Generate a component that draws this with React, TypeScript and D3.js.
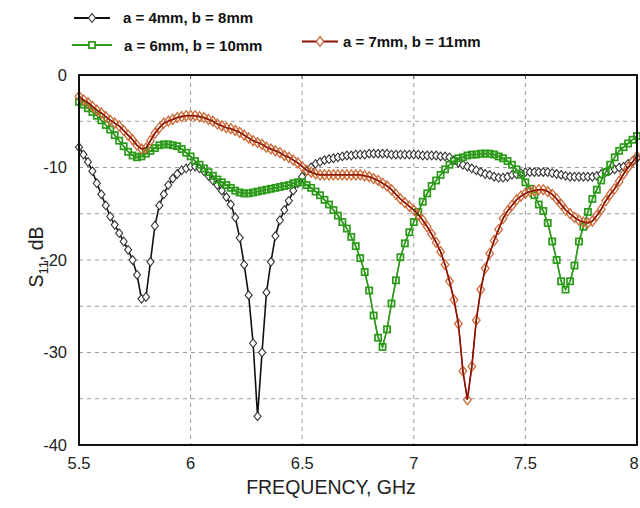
import React from "react";
import * as d3 from "d3";

// Frequency samples (GHz), 0.02 GHz step
const FREQ: number[] = d3.range(0, 126).map((i) => +(5.5 + i * 0.02).toFixed(2));

// a = 4mm, b = 8mm
const S11_A4B8: number[] = [
  -7.8, -8.6, -9.4, -10.4, -11.7, -12.9, -14.1, -15.3, -16.2, -17.1,
  -18.0, -18.9, -20.0, -21.6, -24.2, -24.0, -20.2, -16.3, -14.1, -12.9,
  -11.9, -11.2, -10.7, -10.3, -10.1, -9.9, -9.9, -10.1, -10.4, -10.9,
  -11.4, -11.9, -12.5, -13.2, -14.0, -15.4, -17.6, -20.5, -23.8, -29.0,
  -36.9, -30.0, -23.5, -20.2, -17.4, -15.7, -14.6, -13.6, -12.5, -11.7,
  -11.0, -10.4, -10.0, -9.6, -9.4, -9.2, -9.1, -9.0, -8.9, -8.8,
  -8.7, -8.7, -8.6, -8.6, -8.6, -8.5, -8.5, -8.5, -8.5, -8.5,
  -8.6, -8.6, -8.6, -8.6, -8.6, -8.6, -8.6, -8.7, -8.7, -8.7,
  -8.7, -8.8, -8.8, -8.9, -9.2, -9.5, -9.7, -9.9, -10.1, -10.3,
  -10.5, -10.7, -10.8, -11.0, -11.1, -11.1, -11.0, -10.8, -10.7, -10.6,
  -10.5, -10.5, -10.5, -10.5, -10.5, -10.5, -10.6, -10.7, -10.8, -10.9,
  -11.0, -11.0, -11.0, -11.0, -11.0, -11.0, -10.9, -10.7, -10.5, -10.3,
  -10.2, -10.0, -9.9, -9.6, -9.3, -9.0,
];

// a = 6mm, b = 10mm
const S11_A6B10: number[] = [
  -2.9, -3.2, -3.6, -4.0, -4.4, -4.9, -5.4, -5.9, -6.5, -7.1,
  -7.7, -8.3, -8.7, -8.9, -8.8, -8.5, -8.2, -7.9, -7.6, -7.5,
  -7.5, -7.6, -7.7, -8.0, -8.4, -8.8, -9.3, -9.7, -10.1, -10.5,
  -10.9, -11.3, -11.6, -11.9, -12.2, -12.5, -12.7, -12.8, -12.8, -12.7,
  -12.6, -12.5, -12.4, -12.3, -12.2, -12.1, -12.0, -11.9, -11.7, -11.6,
  -11.6, -11.9, -12.2, -12.6, -13.0, -13.5, -14.0, -14.6, -15.2, -15.9,
  -16.6, -17.5, -18.5, -19.8, -21.3, -23.3, -26.0, -28.4, -29.4, -27.5,
  -24.7, -22.2, -19.7, -18.2, -17.0, -15.9, -14.8, -13.7, -12.8, -12.0,
  -11.4, -10.8, -10.2, -9.7, -9.3, -9.0, -8.9, -8.7, -8.6, -8.6,
  -8.5, -8.5, -8.5, -8.6, -8.8, -9.0, -9.3, -9.7, -10.2, -10.8,
  -11.6, -12.3, -13.0, -14.0, -14.7, -16.0, -18.0, -20.0, -22.3, -23.2,
  -22.3, -20.6, -18.0, -16.4, -14.8, -13.4, -12.4, -11.4, -10.5, -9.7,
  -8.9, -8.2, -7.8, -7.4, -7.0, -6.6,
];

// a = 7mm, b = 11mm
const S11_A7B11: number[] = [
  -2.3, -2.7, -3.0, -3.4, -3.8, -4.1, -4.5, -4.9, -5.2, -5.5,
  -6.0, -6.5, -7.0, -7.6, -8.0, -7.9, -7.1, -6.3, -5.7, -5.2,
  -5.0, -4.8, -4.6, -4.5, -4.4, -4.4, -4.4, -4.5, -4.6, -4.8,
  -5.0, -5.3, -5.5, -5.7, -5.8, -6.0, -6.2, -6.5, -6.8, -7.1,
  -7.3, -7.5, -7.8, -8.0, -8.2, -8.4, -8.7, -8.9, -9.2, -9.5,
  -9.9, -10.3, -10.5, -10.7, -10.8, -10.8, -10.8, -10.8, -10.8, -10.8,
  -10.8, -10.8, -10.8, -10.8, -10.9, -11.0, -11.2, -11.4, -11.7, -12.0,
  -12.4, -12.9, -13.4, -13.8, -14.2, -14.6, -15.1, -15.7, -16.4, -17.2,
  -18.1, -19.1, -20.5, -22.3, -24.3, -26.9, -32.0, -35.1, -31.5, -26.5,
  -23.2, -20.9, -19.3, -17.9, -16.7, -15.5, -14.7, -14.1, -13.5, -13.1,
  -12.8, -12.6, -12.5, -12.4, -12.4, -12.6, -12.9, -13.4, -14.0, -14.6,
  -15.0, -15.4, -15.7, -15.9, -16.0, -15.8, -15.2, -14.5, -13.6, -12.9,
  -12.3, -11.5, -10.7, -10.0, -9.4, -8.8,
];

const X_TICKS: number[] = [5.5, 6, 6.5, 7, 7.5, 8];
const X_TICK_LABELS: string[] = ["5.5", "6", "6.5", "7", "7.5", "8"];
const Y_TICKS: number[] = [0, -10, -20, -30, -40];
const Y_GRID: number[] = [-5, -10, -15, -20, -25, -30, -35];
const X_GRID: number[] = [6, 6.5, 7, 7.5];

const SERIES_LABELS: string[] = ["a = 4mm, b = 8mm", "a = 6mm, b = 10mm", "a = 7mm, b = 11mm"];

const W = 640;
const H = 508;
const PL = 79;
const PR = 637;
const PT = 75;
const PB = 445;

const FONT = "'Liberation Sans', Arial, sans-serif";

type Marker = "diamond" | "square" | "tallDiamond";

function MarkerShape({ type, x, y, stroke, fill }: { type: Marker; x: number; y: number; stroke: string; fill: string }) {
  if (type === "diamond" || type === "tallDiamond") {
    const w = type === "diamond" ? 3.5 : 3.8;
    const h = type === "diamond" ? 4.3 : 5.0;
    return (
      <path
        d={`M${x},${y - h}L${x + w},${y}L${x},${y + h}L${x - w},${y}Z`}
        stroke={stroke}
        strokeWidth={type === "diamond" ? 1.1 : 1.3}
        fill={fill}
      />
    );
  }
  const s = 3.1;
  return <rect x={x - s} y={y - s} width={2 * s} height={2 * s} stroke={stroke} strokeWidth={1.7} fill={fill} />;
}

export default function App() {
  const x = d3.scaleLinear().domain([5.5, 8]).range([PL, PR]);
  const y = d3.scaleLinear().domain([0, -40]).range([PT, PB]);

  const series = [
    { label: SERIES_LABELS[0], values: S11_A4B8, line: "#111111", mstroke: "#333333", mfill: "#ffffff", marker: "diamond" as Marker },
    { label: SERIES_LABELS[1], values: S11_A6B10, line: "#2f9a1c", mstroke: "#2a9a18", mfill: "none", marker: "square" as Marker },
    { label: SERIES_LABELS[2], values: S11_A7B11, line: "#8a1204", mstroke: "#cc6a38", mfill: "none", marker: "tallDiamond" as Marker },
  ];

  const lineGen = d3
    .line<number>()
    .x((_, i) => x(FREQ[i]))
    .y((v) => y(v));

  const legend = [
    { x0: 74, x1: 110, ly: 18, tx: 123, ty: 23 },
    { x0: 72, x1: 112, ly: 45, tx: 124, ty: 50.5 },
    { x0: 302, x1: 338, ly: 41.5, tx: 343, ty: 47 },
  ];

  return (
    <svg width={W} height={H} viewBox={`0 0 ${W} ${H}`} style={{ display: "block", position: "absolute", left: 0, top: 0, background: "#fff" }}>
      <rect x={0} y={0} width={W} height={H} fill="#ffffff" />
      {/* grid */}
      {X_GRID.map((g) => (
        <line key={"xg" + g} x1={x(g)} x2={x(g)} y1={PT} y2={PB} stroke="#9a9a9a" strokeWidth={1} strokeDasharray="4,4" />
      ))}
      {Y_GRID.map((g) => (
        <line key={"yg" + g} x1={PL} x2={PR} y1={y(g)} y2={y(g)} stroke="#9a9a9a" strokeWidth={1} strokeDasharray="4,4" />
      ))}
      {/* top tick marks */}
      {X_GRID.map((g) => (
        <line key={"tt" + g} x1={x(g)} x2={x(g)} y1={PT} y2={PT + 4} stroke="#666" strokeWidth={1} />
      ))}

      {/* series */}
      {series.map((s, si) => (
        <g key={"s" + si}>
          <path d={lineGen(s.values) || ""} fill="none" stroke={s.line} strokeWidth={1.6} />
          {s.values.map((v, i) => (
            <MarkerShape key={i} type={s.marker} x={x(FREQ[i])} y={y(v)} stroke={s.mstroke} fill={s.mfill} />
          ))}
          {s.mfill === "none" && <path d={lineGen(s.values) || ""} fill="none" stroke={s.line} strokeWidth={1.2} />}
        </g>
      ))}

      {/* frame */}
      <rect x={PL} y={PT} width={PR - PL} height={PB - PT} fill="none" stroke="#111" strokeWidth={2} />

      {/* y ticks */}
      {Y_TICKS.map((t) => (
        <text key={"yt" + t} x={67} y={y(t)} dy="0.36em" textAnchor="end" fontFamily={FONT} fontSize={16.5} fill="#222">
          {t}
        </text>
      ))}
      {/* x ticks */}
      {X_TICKS.map((t, i) => (
        <text
          key={"xt" + t}
          x={Math.min(x(t), W - 6)}
          y={469}
          textAnchor="middle"
          fontFamily={FONT}
          fontSize={16.5}
          fill="#222"
        >
          {X_TICK_LABELS[i]}
        </text>
      ))}

      {/* axis titles */}
      <text x={331} y={494} textAnchor="middle" fontFamily={FONT} fontSize={19.5} fill="#222">
        FREQUENCY, GHz
      </text>
      <text transform="translate(43,257) rotate(-90)" textAnchor="middle" fontFamily={FONT} fontSize={19.5} fill="#222">
        S<tspan fontSize={13} dy={5}>11</tspan>
        <tspan dy={-5}>, dB</tspan>
      </text>

      {/* legend */}
      {series.map((s, i) => {
        const L = legend[i];
        return (
          <g key={"lg" + i}>
            <line x1={L.x0} x2={L.x1} y1={L.ly} y2={L.ly} stroke={s.line} strokeWidth={2} />
            <MarkerShape type={s.marker} x={(L.x0 + L.x1) / 2} y={L.ly} stroke={s.mstroke} fill="#ffffff" />
            <text x={L.tx} y={L.ty} fontFamily={FONT} fontWeight="bold" fontSize={15} fill="#111">
              {s.label}
            </text>
          </g>
        );
      })}
    </svg>
  );
}
